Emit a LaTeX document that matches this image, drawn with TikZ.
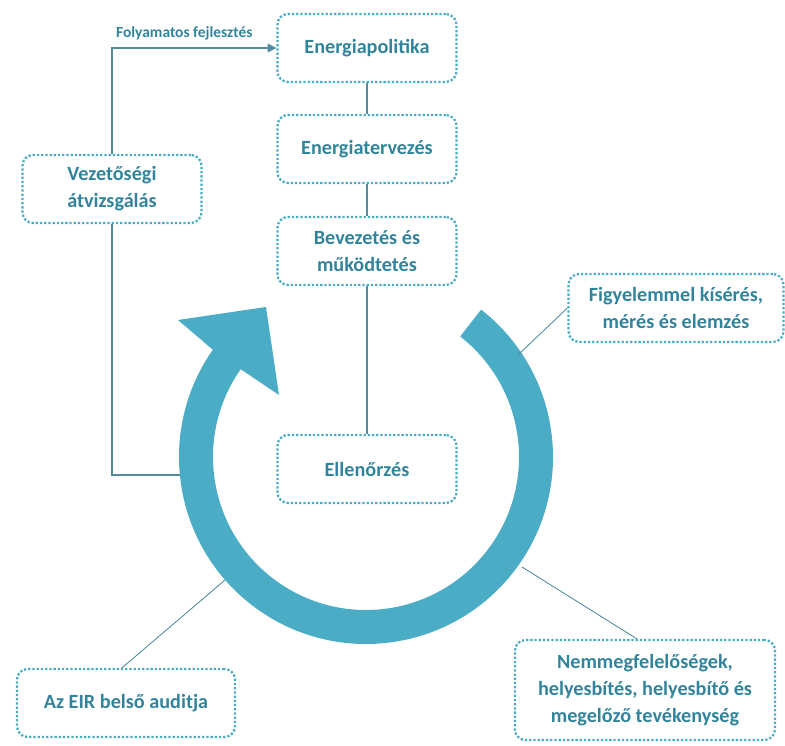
\documentclass[tikz,border=0pt]{standalone}
\usepackage{fontspec}
\setmainfont{Carlito}
\usetikzlibrary{arrows.meta,calc}
\definecolor{ringblue}{RGB}{75,172,198}
\definecolor{txtblue}{RGB}{49,132,155}
\definecolor{linecol}{RGB}{80,140,158}
\tikzset{
  box/.style={draw=ringblue, line width=1.3pt, dash pattern=on 1.3pt off 1.1pt,
    rounded corners=6pt, align=center, text=txtblue,
    font=\bfseries\fontsize{11.5}{15.5}\selectfont,
    minimum width=3.58cm, minimum height=1.36cm, inner sep=2pt},
  link/.style={draw=linecol, line width=0.7pt}
}
\begin{document}
\begin{tikzpicture}[x=0.02cm,y=0.02cm]
\useasboundingbox (0,0) rectangle (785,746);

% circular arrow
\coordinate (ringc) at (366,289);
\fill[ringblue] ($(ringc)+(52:187)$) arc[start angle=52, end angle=-215, radius=187]
  -- (178,426) -- (266,439) -- (279,351)
  -- ($(ringc)+(145:153)$) arc[start angle=145, end angle=412, radius=153] -- cycle;

% boxes
\node[box] (pol) at (367,698) {Energiapolitika};
\node[box] (terv) at (367,597) {Energiatervezés};
\node[box] (bev) at (367,495) {Bevezetés és\\működtetés};
\node[box] (ell) at (367,277) {Ellenőrzés};
\node[box] (vez) at (112,557) {Vezetőségi\\átvizsgálás};
\node[box, minimum width=4.3cm] (figy) at (676,438) {Figyelemmel kísérés,\\mérés és elemzés};
\node[box, minimum width=4.36cm] (audit) at (126,43) {Az EIR belső auditja};
\node[box, minimum width=5.2cm, minimum height=2cm] (nem) at (645,56)
  {Nemmegfelelőségek,\\helyesbítés, helyesbítő és\\megelőző tevékenység};

% connectors
\draw[link] (pol) -- (terv);
\draw[link] (terv) -- (bev);
\draw[link] (bev) -- (ell);
\coordinate (ringw) at (180,271);
\coordinate (ringne) at (518,391);
\coordinate (ringse) at (522,179);
\coordinate (ringsw) at (225,166);
\draw[link, -{Triangle[length=5pt,width=5pt]}] (vez.north) |- (pol.west)
  node[pos=0.72, above=1pt, text=txtblue, font=\bfseries\fontsize{8.8}{10}\selectfont] (folyl) {Folyamatos fejlesztés};
\draw[link] (vez.south) |- (ringw);
\draw[link, line width=0.5pt] (figy.west) -- (ringne);
\draw[link, line width=0.5pt] (nem.north west) ++(123,0) -- (ringse);
\draw[link, line width=0.5pt] (audit.north) ++(-4,0) -- (ringsw);
\end{tikzpicture}
\end{document}
